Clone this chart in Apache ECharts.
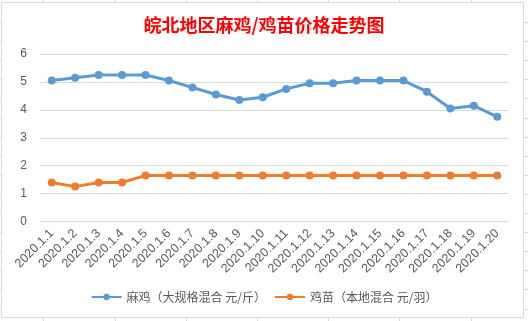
<!DOCTYPE html>
<html><head><meta charset="utf-8">
<script src="https://cdn.jsdelivr.net/npm/echarts@6/dist/echarts.min.js"></script>
<style>html,body{margin:0;padding:0;background:#fff}#c{width:528px;height:321px}</style>
</head><body><div id="c"></div>
<script>
const categories = ['2020.1.1','2020.1.2','2020.1.3','2020.1.4','2020.1.5','2020.1.6','2020.1.7','2020.1.8','2020.1.9','2020.1.10','2020.1.11','2020.1.12','2020.1.13','2020.1.14','2020.1.15','2020.1.16','2020.1.17','2020.1.18','2020.1.19','2020.1.20'];
const maji = [5.05,5.15,5.25,5.25,5.25,5.05,4.8,4.55,4.35,4.45,4.75,4.95,4.95,5.05,5.05,5.05,4.65,4.05,4.15,3.75];
const jimiao = [1.4,1.25,1.4,1.4,1.65,1.65,1.65,1.65,1.65,1.65,1.65,1.65,1.65,1.65,1.65,1.65,1.65,1.65,1.65,1.65];
const seriesNames = ['麻鸡（大规格混合 元/斤）','鸡苗（本地混合 元/羽）'];
const titleText = '皖北地区麻鸡/鸡苗价格走势图';

const chart = echarts.init(document.getElementById('c'), null, {renderer:'canvas'});
const g = [];
const lc = '#d9d9d9';
[43,115,186,257,328,399,471].forEach(x=>{
  g.push({type:'line',shape:{x1:x+0.5,y1:0,x2:x+0.5,y2:2},style:{stroke:lc,lineWidth:1}});
  g.push({type:'line',shape:{x1:x+0.5,y1:318,x2:x+0.5,y2:321},style:{stroke:lc,lineWidth:1}});
});
for(let y=22;y<321;y+=19.1){
  const yy=Math.round(y)+0.5;
  g.push({type:'line',shape:{x1:0,y1:yy,x2:1,y2:yy},style:{stroke:lc,lineWidth:1}});
  g.push({type:'line',shape:{x1:524,y1:yy,x2:528,y2:yy},style:{stroke:lc,lineWidth:1}});
}
g.push({type:'rect',shape:{x:1.5,y:2.5,width:522,height:315},style:{fill:'none',stroke:'#d9d9d9',lineWidth:1},z:10});

chart.setOption({
  backgroundColor:'#fff',
  animation:false,
  title:{text:titleText,left:'center',top:11,textStyle:{color:'#ff0000',fontSize:18,fontWeight:'bold',fontFamily:'"Noto Sans CJK SC"'}},
  grid:{left:40,right:19,top:54,bottom:99.5,containLabel:false},
  legend:{bottom:13,left:'center',itemGap:8,itemWidth:30,itemHeight:8,
    textStyle:{color:'#595959',fontSize:12,fontFamily:'"Noto Sans CJK SC"'},
    data:seriesNames},
  xAxis:{type:'category',data:categories,boundaryGap:true,
    axisLine:{show:false},axisTick:{show:false},
    axisLabel:{rotate:45,color:'#595959',fontSize:12.5,margin:10,interval:0,fontFamily:'"Liberation Sans", Arial'}},
  yAxis:{type:'value',min:0,max:6,interval:1,
    axisLine:{show:false},axisTick:{show:false},
    axisLabel:{color:'#595959',fontSize:12,margin:13,fontFamily:'"Liberation Sans", Arial'},
    splitLine:{lineStyle:{color:'#d9d9d9',width:1}}},
  series:[
    {name:seriesNames[0],type:'line',data:maji,symbol:'circle',symbolSize:8,
     lineStyle:{color:'#5b9bd5',width:3},itemStyle:{color:'#5b9bd5'}},
    {name:seriesNames[1],type:'line',data:jimiao,symbol:'circle',symbolSize:8,
     lineStyle:{color:'#ed7d31',width:3},itemStyle:{color:'#ed7d31'}}
  ],
  graphic:g
});
</script></body></html>
